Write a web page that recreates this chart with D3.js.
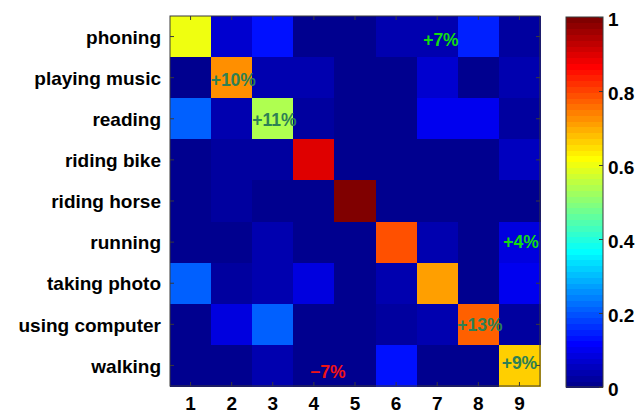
<!DOCTYPE html>
<html>
<head>
<meta charset="utf-8">
<script src="https://cdn.jsdelivr.net/npm/d3@7/dist/d3.min.js"></script>
<style>
  body { margin: 0; background: #fff; }
  text { font-family: "Liberation Sans", Arial, Helvetica, sans-serif; font-weight: bold; }
</style>
</head>
<body>
<svg id="chart" width="636" height="414"></svg>
<script>
// Action classes (rows = true class, columns = predicted class index)
const classes = ["phoning", "playing music", "reading", "riding bike", "riding horse",
                 "running", "taking photo", "using computer", "walking"];
const predictedLabels = ["1", "2", "3", "4", "5", "6", "7", "8", "9"];

// Confusion matrix rows (fraction of test images)
const rowPhoning       = [0.60, 0.07, 0.13, 0.01, 0.01, 0.04, 0.04, 0.155, 0.02];
const rowPlayingMusic  = [0.01, 0.72, 0.04, 0.04, 0.01, 0.01, 0.07, 0.00, 0.04];
const rowReading       = [0.21, 0.04, 0.54, 0.02, 0.01, 0.01, 0.10, 0.10, 0.02];
const rowRidingBike    = [0.01, 0.02, 0.02, 0.90, 0.01, 0.01, 0.01, 0.01, 0.06];
const rowRidingHorse   = [0.01, 0.02, 0.00, 0.01, 0.99, 0.01, 0.00, 0.00, 0.00];
const rowRunning       = [0.01, 0.01, 0.04, 0.01, 0.01, 0.79, 0.04, 0.01, 0.09];
const rowTakingPhoto   = [0.21, 0.03, 0.04, 0.09, 0.01, 0.04, 0.71, 0.01, 0.10];
const rowUsingComputer = [0.01, 0.09, 0.21, 0.01, 0.01, 0.02, 0.04, 0.77, 0.02];
const rowWalking       = [0.01, 0.01, 0.04, 0.01, 0.01, 0.13, 0.01, 0.01, 0.66];
const matrix = [rowPhoning, rowPlayingMusic, rowReading, rowRidingBike, rowRidingHorse,
                rowRunning, rowTakingPhoto, rowUsingComputer, rowWalking];

// Change annotations: label, column / row position (1-based cell coordinates), tone
const noteLabels = ["+7%", "+10%", "+11%", "+4%", "+13%", "+9%", "\u22127%"];
const noteCols   = [7.09, 2.04, 3.04, 9.04, 8.04, 9.00, 4.34];
const noteRows   = [1.08, 2.06, 3.03, 6.00, 8.02, 8.94, 9.14];
const noteTones  = ["gain", "diag", "diag", "gain", "diag", "diag", "loss"];

const colorbarTicks = [0, 0.2, 0.4, 0.6, 0.8, 1];

// 64-level jet colormap
function jetColors(n) {
  const m = n / 4;
  const u = k => (k < 1 || k > 3 * m - 1) ? 0 : (k <= m ? k / m : (k < 2 * m ? 1 : (3 * m - k) / m));
  const out = [];
  for (let i = 1; i <= n; i++) {
    const r = u(i - 3 * m / 2), g = u(i - m / 2), b = u(i + m / 2);
    out.push(d3.rgb(Math.round(r * 255), Math.round(g * 255), Math.round(b * 255)).formatHex());
  }
  return out;
}
const color = d3.scaleQuantize().domain([0, 1]).range(jetColors(64));

const svg = d3.select("#chart");
const plot = { left: 170, top: 16, right: 540, bottom: 386 };
const bar  = { left: 566, right: 603, top: 17, bottom: 387 };
const axisColor = "#3a3a3a";

const x = d3.scaleBand().domain(predictedLabels).range([plot.left, plot.right]);
const y = d3.scaleBand().domain(classes).range([plot.top, plot.bottom]);
const xPos = d3.scaleLinear().domain([0.5, 9.5]).range([plot.left, plot.right]);
const yPos = d3.scaleLinear().domain([0.5, 9.5]).range([plot.top, plot.bottom]);

// Heatmap cells
const cells = matrix.flatMap((row, r) => row.map((v, c) => ({ r, c, v })));
svg.append("g").attr("shape-rendering", "crispEdges")
  .selectAll("rect").data(cells).join("rect")
  .attr("x", d => x(predictedLabels[d.c]))
  .attr("y", d => y(classes[d.r]))
  .attr("width", x.bandwidth() + 0.6)
  .attr("height", y.bandwidth() + 0.6)
  .attr("fill", d => color(d.v));

// Axes with inward ticks
const gx = svg.append("g").attr("transform", `translate(0,${plot.bottom})`)
  .call(d3.axisBottom(x).tickSizeInner(-4).tickSizeOuter(0).tickPadding(11));
const gxTop = svg.append("g").attr("transform", `translate(0,${plot.top})`)
  .call(d3.axisTop(x).tickSizeInner(-4).tickSizeOuter(0).tickFormat(""));
const gy = svg.append("g").attr("transform", `translate(${plot.left},0)`)
  .call(d3.axisLeft(y).tickSizeInner(-4).tickSizeOuter(0).tickPadding(9));
const gyRight = svg.append("g").attr("transform", `translate(${plot.right},0)`)
  .call(d3.axisRight(y).tickSizeInner(-4).tickSizeOuter(0).tickFormat(""));

[gx, gxTop, gy, gyRight].forEach(g => {
  g.select(".domain").remove();
  g.selectAll(".tick line").attr("stroke", axisColor);
  g.selectAll("text").attr("fill", "#000").style("font-size", "19px");
});
gy.selectAll("text").attr("dy", "0.38em");

svg.append("rect")
  .attr("x", plot.left).attr("y", plot.top)
  .attr("width", plot.right - plot.left).attr("height", plot.bottom - plot.top)
  .attr("fill", "none").attr("stroke", axisColor).attr("stroke-width", 1);

// Annotations
const toneColor = { gain: "#12dc12", diag: "#2e8054", loss: "#f01414" };
svg.append("g").selectAll("text").data(noteLabels).join("text")
  .attr("x", (d, i) => xPos(noteCols[i]))
  .attr("y", (d, i) => yPos(noteRows[i]))
  .attr("dy", "0.36em")
  .attr("text-anchor", "middle")
  .style("font-size", "17.5px")
  .attr("fill", (d, i) => toneColor[noteTones[i]])
  .text(d => d);

// Colorbar
const cb = d3.scaleLinear().domain([0, 1]).range([bar.bottom, bar.top]);
const levels = d3.range(64).map(i => i / 64);
svg.append("g").attr("shape-rendering", "crispEdges")
  .selectAll("rect").data(levels).join("rect")
  .attr("x", bar.left)
  .attr("y", d => cb(d + 1 / 64))
  .attr("width", bar.right - bar.left)
  .attr("height", cb(0) - cb(1 / 64) + 0.6)
  .attr("fill", d => color(d + 0.5 / 64));
svg.append("rect")
  .attr("x", bar.left).attr("y", bar.top)
  .attr("width", bar.right - bar.left).attr("height", bar.bottom - bar.top)
  .attr("fill", "none").attr("stroke", axisColor).attr("stroke-width", 1);
const gcb = svg.append("g").attr("transform", `translate(${bar.right},0)`)
  .call(d3.axisRight(cb).tickValues(colorbarTicks).tickFormat(d3.format("~g"))
        .tickSizeInner(-4).tickSizeOuter(0).tickPadding(5));
gcb.select(".domain").remove();
gcb.selectAll(".tick line").attr("stroke", axisColor);
gcb.selectAll("text").attr("fill", "#000").attr("dy", "0.45em").style("font-size", "19px");
</script>
</body>
</html>
